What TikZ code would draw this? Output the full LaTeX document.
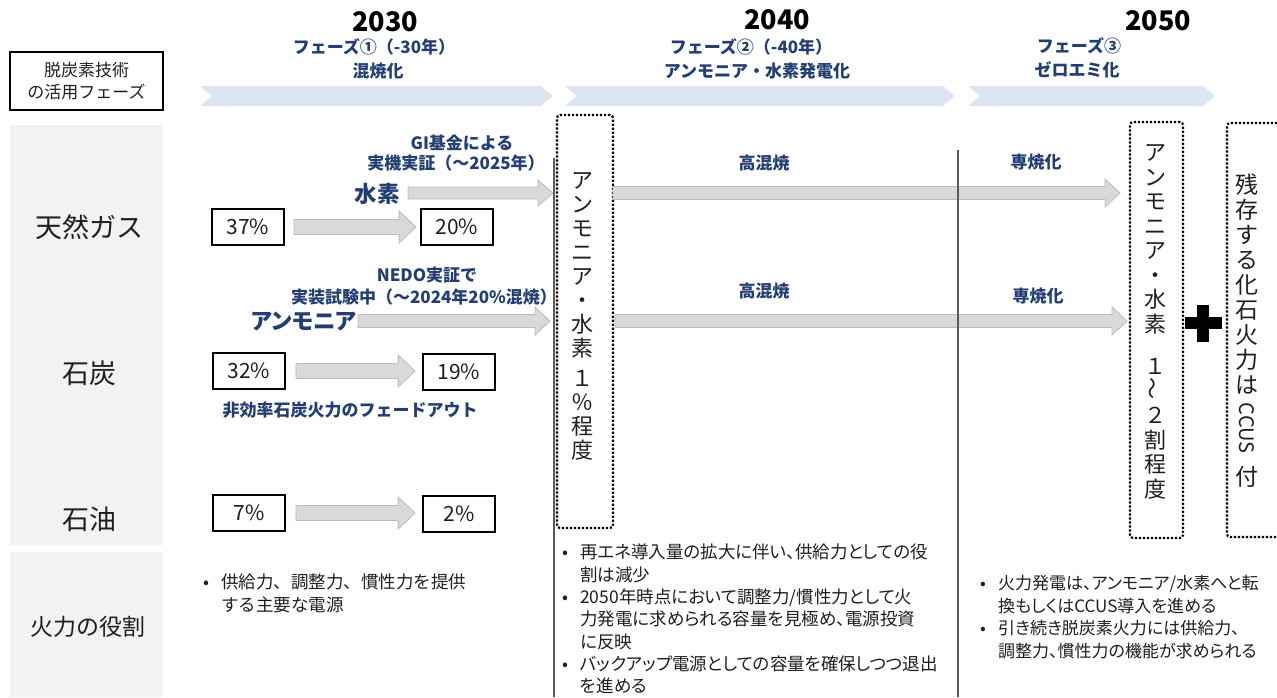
\documentclass[tikz,border=0pt]{standalone}
\usepackage{fontspec}
\usepackage{graphicx}
\setmainfont{Noto Sans CJK JP}
\newfontfamily\pf{Noto Sans CJK JP}[RawFeature=+palt]
\usetikzlibrary{calc}
\definecolor{navy}{RGB}{35,62,115}
\definecolor{chev}{RGB}{220,229,242}
\definecolor{panel}{RGB}{242,242,242}
\definecolor{arrfill}{RGB}{217,217,217}
\definecolor{arrdraw}{RGB}{188,188,188}
\definecolor{txt}{RGB}{30,30,30}
\definecolor{linegray}{RGB}{90,90,90}
\newcommand\fsz[2]{\fontsize{#1}{#2}\selectfont}
\newcommand\garrow[5]{%
  \path[blockarrow] let \p1=(#1), \p2=(#2) in
    (\x1,\y1+#3pt) -- (\x2-#5pt,\y1+#3pt) -- (\x2-#5pt,\y1+#4pt) -- (\x2,\y1)
    -- (\x2-#5pt,\y1-#4pt) -- (\x2-#5pt,\y1-#3pt) -- (\x1,\y1-#3pt) -- cycle;}
\begin{document}
\begin{tikzpicture}[x=1pt,y=-1pt,
  yr/.style={font=\bfseries\fsz{27}{30}, text=black, inner sep=0},
  ph/.style={font=\bfseries\fsz{17}{20}, text=navy, inner sep=0},
  big/.style={font=\pf\bfseries\fsz{22.5}{24}, text=navy, inner sep=0},
  rowlbl/.style={font=\fsz{27}{30}, text=txt, inner sep=0},
  pbox/.style={draw, line width=1.8pt, minimum width=72pt, minimum height=36pt, inner sep=0, font=\fsz{21}{24}, text=txt},
  dotbox/.style={draw, line width=2.2pt, dash pattern=on 2.2pt off 1.8pt, rounded corners=3pt, inner sep=0},
  vtext/.style={align=center, inner sep=0, text=txt},
  blockarrow/.style={fill=arrfill, draw=arrdraw, line width=0.8pt},
  vline/.style={draw=linegray, line width=1.4pt},
  bul/.style={align=left, inner sep=0, font=\pf\fsz{17.5}{22.3}, text=txt}]
\useasboundingbox (0,0) rectangle (1277,697);

% left panels
\fill[panel] (10,125) rectangle (163,545);
\fill[panel] (10,552) rectangle (163,697);
\node[draw, line width=1.2pt, minimum width=153pt, minimum height=58pt, inner sep=0,
      align=center, font=\fsz{17}{22}, text=txt] (lbl) at (86.5,81) {脱炭素技術\\の活用フェーズ};
\node[rowlbl] (gas) at (89,227) {天然ガス};
\node[rowlbl] (coal) at (89,373) {石炭};
\node[rowlbl] (oil) at (89,519) {石油};
\node[rowlbl, font=\fsz{23}{26}] (role) at (88,627) {火力の役割};

% chevrons
\fill[chev] (200,86) -- (541,86) -- (553,96) -- (541,106) -- (200,106) -- (212,96) -- cycle;
\fill[chev] (565,86) -- (943,86) -- (955,96) -- (943,106) -- (565,106) -- (577,96) -- cycle;
\fill[chev] (968,86) -- (1203,86) -- (1215,96) -- (1203,106) -- (968,106) -- (980,96) -- cycle;

% headers
\node[yr] (y30) at (385,22) {2030};
\node[ph] (h1a) at (374,47) {フェーズ①（-30年）};
\node[ph] (h1b) at (378,71) {混焼化};
\node[yr] (y40) at (777,20) {2040};
\node[ph] (h2a) at (751,47) {フェーズ②（-40年）};
\node[ph] (h2b) at (757,71) {アンモニア・水素発電化};
\node[yr] (y50) at (1158,21) {2050};
\node[ph] (h3a) at (1079,46) {フェーズ③};
\node[ph] (h3b) at (1077,70) {ゼロエミ化};

% row texts
\node[ph] (gi1) at (462,143) {GI基金による};
\node[ph] (gi2) at (456,163) {実機実証（～2025年）};
\node[big] (h2) at (377,194) {水素};
\node[ph] (ne1) at (427,275) {NEDO実証で};
\node[ph] (ne2) at (424,297) {実装試験中（～2024年20\%混焼）};
\node[big] (nh3) at (304,322) {アンモニア};
\node[ph] (fade) at (350,410) {非効率石炭火力のフェードアウト};
\node[ph] (hm1) at (764,163) {高混焼};
\node[ph] (hm2) at (764,291) {高混焼};
\node[ph] (se1) at (1036,162) {専焼化};
\node[ph] (se2) at (1038,296) {専焼化};

% percent boxes
\node[pbox] (p37) at (248,227) {37\%};
\node[pbox] (p20) at (457,227) {20\%};
\node[pbox] (p32) at (249,371) {32\%};
\node[pbox] (p19) at (459,372) {19\%};
\node[pbox] (p7) at (249,513) {7\%};
\node[pbox] (p2) at (459,514) {2\%};

% dotted boxes
\node[dotbox, minimum width=56pt, minimum height=413pt] (b1) at (585,321.5) {};
\node[dotbox, minimum width=53pt, minimum height=416pt] (b2) at (1156.5,330) {};
\node[dotbox, minimum width=57pt, minimum height=414pt] (b3) at (1255.5,330) {};
\node[vtext, font=\fsz{22}{24}] (t1) at (582,316)
  {ア\\ン\\モ\\ニ\\ア\\・\\水\\素\\[6pt]１\\％\\程\\度};
\node[vtext, font=\fsz{22}{24.5}] (t2) at (1155,322)
  {ア\\ン\\モ\\ニ\\ア\\・\\水\\素\\[18pt]１\\\rotatebox{90}{～}\\２\\割\\程\\度};
\node[vtext, font=\fsz{23}{25}] (t3) at (1247,331)
  {残\\存\\す\\る\\化\\石\\火\\力\\は\\\raisebox{16pt}{\rotatebox{-90}{\fsz{20}{22}CCUS}}\\[12pt]付};

% plus sign
\fill[black] (1184.5,317) rectangle (1221.5,329);
\fill[black] (1197,304.5) rectangle (1209,341.5);

% arrow end points
\coordinate (h2s) at (408,193);
\coordinate (h2e) at (553,193);
\coordinate (nhs) at (358,321);
\coordinate (nhe) at (550,321);
\coordinate (l1s) at (613,193);
\coordinate (l1e) at (1120,193);
\coordinate (l2s) at (615,321);
\coordinate (l2e) at (1127,321);

% gray block arrows
\garrow{[xshift=9pt]p37.east}{[xshift=-4pt]p20.west}{7.5}{16}{17}
\garrow{[xshift=10pt]p32.east}{[xshift=-7pt]p19.west}{7.5}{16}{17}
\garrow{[xshift=10pt]p7.east}{[xshift=-7pt]p2.west}{7.5}{16}{17}
\garrow{h2s}{h2e}{6}{13}{15}
\garrow{nhs}{nhe}{6.5}{14}{15}
\garrow{l1s}{l1e}{6.5}{14}{15}
\garrow{l2s}{l2e}{6.5}{14}{15}

% vertical lines
\coordinate (v1t) at (554,158);
\coordinate (v1b) at (554,697);
\coordinate (v2t) at (958,150);
\coordinate (v2b) at (958,697);
\draw[vline] (v1t) -- (v1b);
\draw[vline] (v2t) -- (v2b);

% bottom texts
\node[bul, font=\fsz{17.5}{22.6}, anchor=north west] (bl) at (203,574)
  {\makebox[18pt][l]{•}供給力、調整力、慣性力を提供\\
   \hspace*{18pt}する主要な電源};
\node[bul, anchor=north west] (bm) at (562,544)
  {\makebox[18pt][l]{•}再エネ導入量の拡大に伴い、供給力としての役\\
   \hspace*{18pt}割は減少\\
   \makebox[18pt][l]{•}2050年時点において調整力/慣性力として火\\
   \hspace*{18pt}力発電に求められる容量を見極め、電源投資\\
   \hspace*{18pt}に反映\\
   \makebox[18pt][l]{•}バックアップ電源としての容量を確保しつつ退出\\
   \hspace*{18pt}を進める};
\node[bul, font=\pf\fsz{17}{22.6}, anchor=north west] (br) at (980,575)
  {\makebox[18pt][l]{•}火力発電は、アンモニア/水素へと転\\
   \hspace*{18pt}換もしくはCCUS導入を進める\\
   \makebox[18pt][l]{•}引き続き脱炭素火力には供給力、\\
   \hspace*{18pt}調整力、慣性力の機能が求められる};
\end{tikzpicture}
\end{document}
